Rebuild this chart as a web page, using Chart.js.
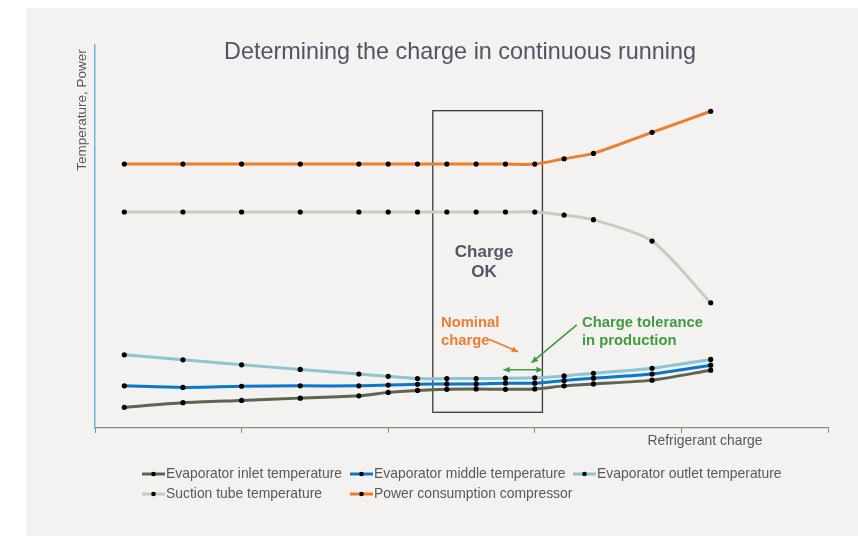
<!DOCTYPE html>
<html>
<head>
<meta charset="utf-8">
<script src="https://cdn.jsdelivr.net/npm/chart.js@4.4.1/dist/chart.umd.min.js"></script>
<style>
    body { margin: 0; background: #ffffff; }
    #panel { position: absolute; left: 26px; top: 8px; width: 832px; height: 528px; background: #f3f2f0; }
    #chart { position: absolute; left: 0; top: 0; }
</style>
</head>
<body>
<div id="panel"></div>
<canvas id="chart" width="858" height="536"></canvas>
<script>
// refrigerant charge (arbitrary units)
const charge = [0, 2, 4, 6, 8, 9, 10, 11, 12, 13, 14, 15, 16, 18, 20];
const xTicks = [-1, 4, 9, 14, 19, 24];

const inletTemp = [5.4, 6.6, 7.2, 7.8, 8.4, 9.3, 9.8, 10.1, 10.2, 10.1, 10.2, 11.0, 11.5, 12.5, 15.1];
const middleTemp = [11.0, 10.6, 10.9, 11.0, 11.0, 11.2, 11.4, 11.5, 11.5, 11.7, 11.7, 12.4, 13.0, 14.1, 16.4];
const outletTemp = [19.1, 17.8, 16.5, 15.3, 14.1, 13.5, 12.9, 12.9, 12.9, 13.0, 13.1, 13.6, 14.3, 15.6, 17.9];
const suctionTemp = [56.4, 56.4, 56.4, 56.4, 56.4, 56.4, 56.4, 56.4, 56.4, 56.4, 56.4, 55.6, 54.4, 48.8, 32.7];
const power = [68.9, 68.9, 68.9, 68.9, 68.9, 68.9, 68.9, 68.9, 68.9, 68.9, 68.9, 70.3, 71.7, 77.2, 82.7];

const seriesNames = ["Evaporator inlet temperature", "Evaporator middle temperature", "Evaporator outlet temperature",
    "Suction tube temperature", "Power consumption compressor"];
const seriesColors = ["#5f6352", "#0a78c8", "#8cc4d0", "#cbcabd", "#ee7d2f"];
const seriesValues = [inletTemp, middleTemp, outletTemp, suctionTemp, power];

// "charge OK" window and notes, in data units
const okBox = { x1: 10.52, x2: 14.26, y1: 4.1, y2: 82.85 };

const FONT = "'Liberation Sans', Arial, sans-serif";

function toPoints(values) {
    return values.map((v, i) => ({ x: charge[i], y: v }));
}

const datasets = seriesValues.map((vals, i) => ({
    label: seriesNames[i],
    data: toPoints(vals),
    borderColor: seriesColors[i],
    backgroundColor: "#000000",
    borderWidth: 3,
    pointRadius: 2.6,
    pointBorderWidth: 0,
    pointBackgroundColor: "#000000",
    tension: 0.25,
    order: 5 - i
}));

function arrowHead(ctx, x1, y1, x2, y2, size) {
    const a = Math.atan2(y2 - y1, x2 - x1);
    ctx.beginPath();
    ctx.moveTo(x2, y2);
    ctx.lineTo(x2 - size * Math.cos(a - 0.45), y2 - size * Math.sin(a - 0.45));
    ctx.lineTo(x2 - size * Math.cos(a + 0.45), y2 - size * Math.sin(a + 0.45));
    ctx.closePath();
    ctx.fill();
}

function arrow(ctx, x1, y1, x2, y2, color, both) {
    ctx.strokeStyle = color;
    ctx.fillStyle = color;
    ctx.lineWidth = 1.6;
    ctx.beginPath();
    ctx.moveTo(x1, y1);
    ctx.lineTo(x2, y2);
    ctx.stroke();
    arrowHead(ctx, x1, y1, x2, y2, 7);
    if (both) arrowHead(ctx, x2, y2, x1, y1, 7);
}

const extras = {
    id: "extras",
    beforeDatasetsDraw(chart) {
        const ctx = chart.ctx;
        const xs = chart.scales.x, ys = chart.scales.y;
        ctx.save();
        ctx.strokeStyle = "#3a3a3a";
        ctx.lineWidth = 1.3;
        const l = xs.getPixelForValue(okBox.x1), r = xs.getPixelForValue(okBox.x2);
        const t = ys.getPixelForValue(okBox.y2), b = ys.getPixelForValue(okBox.y1);
        ctx.strokeRect(l, t, r - l, b - t);
        ctx.restore();
    },
    afterDraw(chart) {
        const ctx = chart.ctx;
        const xs = chart.scales.x, ys = chart.scales.y;
        const X = v => xs.getPixelForValue(v), Y = v => ys.getPixelForValue(v);
        ctx.save();
        ctx.textBaseline = "middle";

        // title
        ctx.fillStyle = "#4f5466";
        ctx.font = "23.4px " + FONT;
        ctx.textAlign = "center";
        ctx.fillText("Determining the charge in continuous running", 460, 53);

        // axis titles
        ctx.fillStyle = "#595959";
        ctx.font = "13.9px " + FONT;
        ctx.fillText("Refrigerant charge", 705, 441);
        ctx.save();
        ctx.translate(82, 110);
        ctx.rotate(-Math.PI / 2);
        ctx.font = "13.5px " + FONT;
        ctx.fillText("Temperature, Power", 0, 0);
        ctx.restore();

        // notes
        ctx.fillStyle = "#545868";
        ctx.font = "bold 17px " + FONT;
        ctx.fillText("Charge", X(12.27), Y(45.8));
        ctx.fillText("OK", X(12.27), Y(40.65));

        ctx.textAlign = "left";
        ctx.font = "bold 14.8px " + FONT;
        ctx.fillStyle = "#ee7d2f";
        ctx.fillText("Nominal", X(10.8), Y(27.5));
        ctx.fillText("charge", X(10.8), Y(22.8));
        ctx.fillStyle = "#3f9b3c";
        ctx.fillText("Charge tolerance", X(15.61), Y(27.5));
        ctx.fillText("in production", X(15.61), Y(22.8));

        arrow(ctx, X(12.44), Y(23.2), X(13.43), Y(19.9), "#ee7d2f", false);
        arrow(ctx, X(15.43), Y(26.9), X(13.89), Y(17.05), "#3f9b3c", false);
        arrow(ctx, X(12.93), Y(15.2), X(14.27), Y(15.2), "#3f9b3c", true);

        // legend
        const cols = [142, 350, 573];
        const rows = [474, 494];
        ctx.font = "13.9px " + FONT;
        chart.data.datasets.forEach((ds, i) => {
            const x = cols[i % 3], y = rows[Math.floor(i / 3)];
            ctx.strokeStyle = ds.borderColor;
            ctx.lineWidth = 3;
            ctx.beginPath();
            ctx.moveTo(x, y);
            ctx.lineTo(x + 23, y);
            ctx.stroke();
            ctx.fillStyle = "#000000";
            ctx.beginPath();
            ctx.arc(x + 11.5, y, 2.3, 0, Math.PI * 2);
            ctx.fill();
            ctx.fillStyle = "#595959";
            ctx.fillText(ds.label, x + 24, y);
        });
        ctx.restore();
    }
};

const ctx = document.getElementById("chart").getContext("2d");
const myChart = new Chart(ctx, {
    type: "line",
    data: { datasets: datasets },
    options: {
        responsive: false,
        animation: false,
        layout: { padding: { left: 95, right: 30, top: 45, bottom: 102 } },
        plugins: {
            legend: { display: false },
            tooltip: { enabled: false }
        },
        scales: {
            x: {
                type: "linear",
                min: -1,
                max: 24,
                afterBuildTicks: scale => { scale.ticks = xTicks.map(v => ({ value: v })); },
                afterFit: scale => { scale.height = 6; },
                ticks: { display: false },
                grid: { drawOnChartArea: false, drawTicks: true, tickLength: 5, color: "#8a8a78" },
                border: { color: "#8a8a78", width: 1.2 }
            },
            y: {
                min: 0,
                max: 100,
                afterFit: scale => { scale.width = 0; },
                ticks: { display: false },
                grid: { drawOnChartArea: false, drawTicks: false },
                border: { color: "#6cb6d8", width: 1.5 }
            }
        }
    },
    plugins: [extras]
});
</script>
</body>
</html>
